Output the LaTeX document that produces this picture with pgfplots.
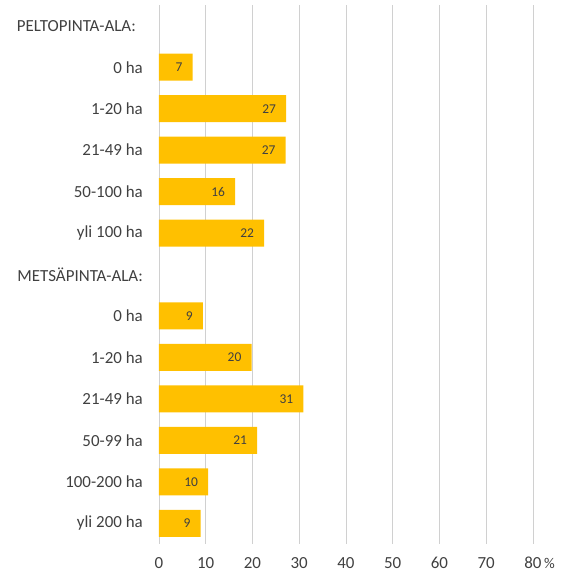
\documentclass[border=0pt]{standalone}
\usepackage{fontspec}
\setmainfont{Carlito}
\usepackage{pgfplots}
\usepackage{pgfplotstable}
\pgfplotsset{compat=1.18}
\definecolor{bargold}{HTML}{FFC000}
\definecolor{txt}{HTML}{404040}
\definecolor{gridc}{HTML}{D0D0D0}
\pgfplotstableread{
y x lab
1 7.2 7
2 27.2 27
3 27.1 27
4 16.3 16
5 22.5 22
7 9.4 9
8 19.8 20
9 30.9 31
10 21.0 21
11 10.5 10
12 8.9 9
}\data
\begin{document}
\begin{tikzpicture}
\begin{axis}[
  name=ax,
  scale only axis,
  width=374bp, height=539bp,
  xmin=0, xmax=80,
  ymin=-0.5, ymax=12.5,
  y dir=reverse,
  xbar, bar width=0.65, bar shift=0pt,
  axis line style={draw=none},
  major tick length=0,
  xtick={0,10,...,80},
  xmajorgrids,
  grid style={gridc, line width=0.9bp},
  ytick={0,...,12},
  yticklabels={{PELTOPINTA-ALA:\hspace*{7bp}},0 ha,1-20 ha,21-49 ha,50-100 ha,yli 100 ha,METSÄPINTA-ALA:,0 ha,1-20 ha,21-49 ha,50-99 ha,100-200 ha,yli 200 ha},
  yticklabel style={anchor=east, inner sep=0pt, xshift=-16bp, font=\fontsize{17}{19}\selectfont, text=txt},
  xticklabel style={anchor=north, inner sep=0pt, yshift=-13bp, font=\fontsize{17}{19}\selectfont, text=txt},
  /pgf/number format/assume math mode=true,
  nodes near coords,
  point meta=explicit symbolic,
  nodes near coords style={anchor=east, inner sep=0pt, xshift=-10bp, font=\fontsize{13.5}{15}\selectfont, text=txt},
  clip=false,
]
\addplot[fill=bargold, draw=none] table[x=x, y=y, meta=lab] {\data};
\node[anchor=west, inner sep=0pt, font=\fontsize{15}{17}\selectfont, text=txt] at ([xshift=11bp, yshift=-19bp]rel axis cs:1,0) {\%};
\end{axis}
\pgfresetboundingbox
\path ([xshift=-159bp, yshift=-30bp]ax.south west) rectangle ([xshift=38bp, yshift=5bp]ax.north east);
\end{tikzpicture}
\end{document}
